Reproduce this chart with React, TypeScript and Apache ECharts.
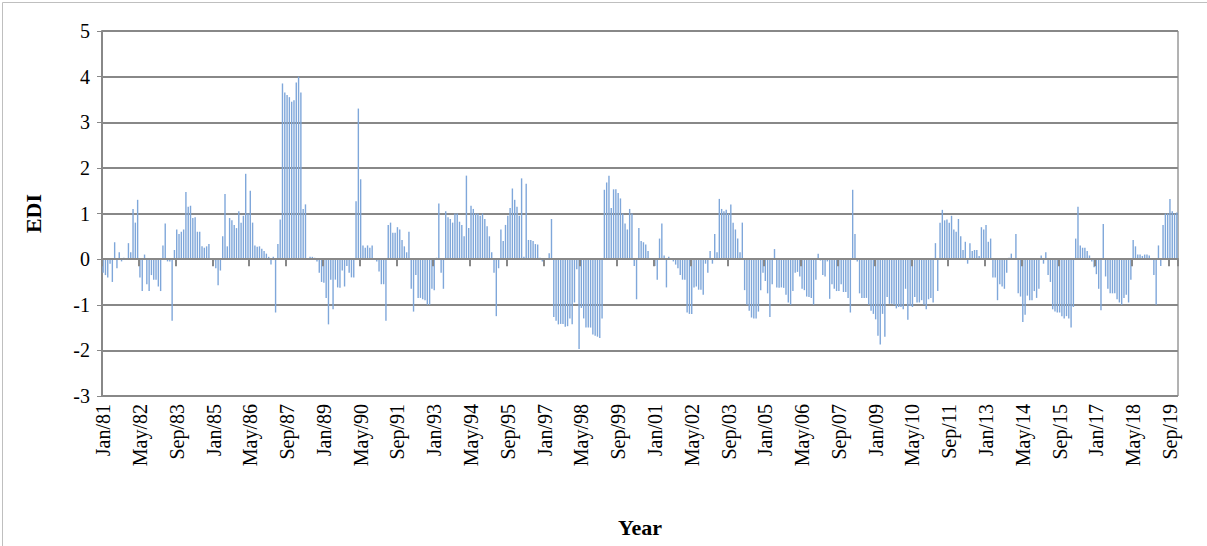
import { useEffect, useRef } from 'react';
import * as echarts from 'echarts';

// monthly EDI values, Jan 1981 onward
const edi1 = [-0.3, -0.35, -0.4, -0.1, -0.5, 0.37, -0.2, 0.15, -0.05, 0.03, 0.0, 0.35, 0.15, 1.1, 0.8, 1.3, -0.4, -0.7, 0.1, -0.55, -0.7, -0.35, -0.45, -0.45, -0.6, -0.7, 0.3, 0.78, -0.05, -0.05, -1.35, 0.2, 0.65, 0.55, 0.6, 0.65, 1.47, 1.15, 1.17, 0.9, 0.92, 0.6, 0.6];
const edi2 = [0.28, 0.25, 0.28, 0.33, 0.02, -0.05, -0.2, -0.57, -0.25, 0.5, 1.43, 0.28, 0.9, 0.85, 0.75, 0.68, 1.05, 0.8, 0.95, 1.87, 1.0, 1.5, 0.8, 0.3, 0.27, 0.28, 0.23, 0.18, 0.12, 0.05, -0.12, 0.05, -1.17, 0.33, 0.87, 3.85, 3.65, 3.6, 3.55, 3.45, 3.48, 3.87, 4.0, 3.65, 1.1, 1.2];
const edi3 = [0.0, 0.05, 0.05, 0.03, -0.05, -0.3, -0.5, -0.52, -0.85, -1.43, -0.45, -1.1, -0.45, -0.62, -0.63, -0.25, -0.6, -0.15, -0.3, -0.4, -0.4, 1.27, 3.3, 1.75, 0.3, 0.25, 0.3, 0.25, 0.3, 0.02, -0.05, -0.27, -0.55, -0.55, -1.35, 0.75, 0.8, 0.58, 0.58, 0.7, 0.65, 0.42, 0.28, 0.15, 0.6, -0.65];
const edi4 = [-1.15, -0.35, -0.85, -0.85, -0.88, -0.9, -1.0, -1.0, -0.65, -0.68, 0.03, 1.22, -0.3, -0.65, 1.05, 0.92, 0.88, 0.8, 1.0, 1.0, 0.82, 0.75, 0.5, 1.83, 0.68, 1.17, 1.1, 1.0, 1.0, 0.95, 1.0, 0.88, 0.72, 0.5, 0.15, -0.3, -1.25, -0.2, 0.65, 0.4, 0.75, 0.95, 1.12, 1.55, 1.3, 1.15];
const edi5 = [0.95, 1.77, 0.05, 1.65, 0.42, 0.42, 0.4, 0.33, 0.32, 0.03, -0.05, 0.0, 0.0, 0.13, 0.88, -1.27, -1.35, -1.43, -1.42, -1.42, -1.48, -1.47, -1.3, -1.43, -0.95, -0.22, -1.97, -1.07, -1.3, -1.5, -1.5, -1.5, -1.65, -1.68, -1.7, -1.73, -1.3, 1.52, 1.68, 1.83, 1.12, 1.53, 1.53, 1.45, 1.33];
const edi6 = [1.0, 0.78, 0.65, 1.1, 1.0, -0.15, -0.88, 0.68, 0.4, 0.37, 0.32, 0.18, 0.0, 0.0, -0.15, -0.45, 0.45, 0.78, 0.08, -0.62, 0.05, 0.0, -0.05, -0.12, -0.2, -0.35, -0.45, -0.45, -1.17, -1.2, -1.2, -0.62, -0.6, -0.67, -0.67, -0.78, -0.1, -0.3, 0.18, -0.1, 0.55, 0.15, 1.32, 1.1, 1.05, 1.08];
const edi7 = [1.0, 1.2, 0.8, 0.65, 0.45, 0.15, 0.8, -0.68, -1.0, -1.13, -1.28, -1.3, -1.3, -1.15, -0.68, -0.3, -0.48, -0.75, -1.27, -0.55, 0.22, -0.62, -0.63, -0.62, -0.63, -0.78, -0.95, -1.0, -0.7, -0.3, -0.28, -0.38, -0.65, -0.68, -0.82, -0.83, -0.85, -1.0, -0.45, 0.12, -0.03, -0.35, -0.38, -0.05, -0.87];
const edi8 = [-0.55, -0.65, -0.7, -0.7, -0.55, -0.72, -0.72, -0.85, -1.17, 1.52, 0.55, -0.05, -0.75, -0.85, -0.85, -0.85, -1.0, -1.13, -1.2, -1.32, -1.68, -1.87, -1.2, -1.7, -0.83, -0.98, -0.98, -1.0, -1.08, -1.05, -1.05, -1.1, -0.65, -1.33, -1.03, -1.05, -0.83, -0.95, -0.95, -0.9, -1.0, -1.1, -0.88, -0.85, -0.95, 0.35];
const edi9 = [-0.7, 0.8, 1.08, 0.85, 0.87, 0.8, 0.95, 0.65, 0.6, 0.88, 0.5, 0.2, 0.38, -0.1, 0.35, 0.18, 0.2, 0.2, 0.07, 0.7, 0.65, 0.75, 0.38, 0.45, -0.4, -0.4, -0.9, -0.55, -0.6, -0.65, -0.3, 0.03, 0.12, 0.0, 0.55, -0.75, -0.82, -1.38, -1.22, -0.8, -0.9, -0.9, -0.7, -0.85, -0.65, 0.08];
const edi10 = [-0.1, 0.15, -0.35, -0.5, -1.1, -1.15, -1.17, -1.17, -1.25, -1.3, -1.25, -1.3, -1.5, -1.05, 0.45, 1.15, 0.3, 0.25, 0.25, 0.18, 0.08, -0.05, -0.18, -0.33, -0.65, -1.12, 0.77, -0.38, -0.65, -0.75, -0.75, -0.75, -0.88, -0.95, -1.0, -0.85, -0.78, -0.95, -0.45, 0.42, 0.28, 0.1, 0.1, 0.07, 0.1, 0.1, 0.08, -0.02, -0.35, -1.0, 0.3, -0.15, 0.75, 1.0, 1.0, 1.32, 1.05, 1.0, 1.02];

const ediValues = [...edi1, ...edi2, ...edi3, ...edi4, ...edi5, ...edi6, ...edi7, ...edi8, ...edi9, ...edi10];
const monthNames = ['Jan', 'Feb', 'Mar', 'Apr', 'May', 'Jun', 'Jul', 'Aug', 'Sep', 'Oct', 'Nov', 'Dec'];
const startYear = 1981;
const months = ediValues.map((_, i) => {
    const y = startYear + Math.floor(i / 12);
    return monthNames[i % 12] + '/' + String(y).slice(2);
});

const serif = '"Liberation Serif", "Times New Roman", serif';

const App = () => {
    const chartRef = useRef<HTMLDivElement | null>(null);

    useEffect(() => {
        document.body.style.margin = '0';
        const chart = echarts.init(chartRef.current!, null, { renderer: 'svg' });

        const option: echarts.EChartsOption = {
            animation: false,
            grid: {
                left: 102, right: 29, top: 31, bottom: 150,
                show: true, borderColor: '#666', borderWidth: 1,
            },
            graphic: [
                {
                    type: 'rect', left: 0, top: 0,
                    shape: { width: 1206, height: 545 },
                    style: { fill: 'none', stroke: '#bfbfbf', lineWidth: 1 },
                },
            ],
            xAxis: [
                {
                    type: 'category', data: months, position: 'bottom',
                    axisLine: { onZero: false, show: false },
                    axisTick: { show: false },
                    axisLabel: {
                        interval: 15, rotate: 90, fontFamily: serif,
                        fontSize: 20, color: '#000', margin: 8,
                    },
                    name: 'Year', nameLocation: 'middle', nameGap: 120,
                    nameTextStyle: { fontFamily: serif, fontSize: 22, fontWeight: 'bold', color: '#000' },
                },
                {
                    type: 'category', data: months, position: 'bottom',
                    axisLine: { show: true, onZero: true, lineStyle: { color: '#888', width: 2 } },
                    axisTick: { show: true, interval: 15, length: 7, lineStyle: { color: '#888', width: 2 } },
                    axisLabel: { show: false },
                    z: 5,
                },
            ],
            yAxis: {
                type: 'value', min: -3, max: 5, interval: 1,
                axisLine: { show: true, lineStyle: { color: '#888', width: 2 } },
                axisTick: { show: true, length: 5, lineStyle: { color: '#888' } },
                splitLine: { lineStyle: { color: '#888', width: 2 } },
                axisLabel: { fontFamily: serif, fontSize: 20, color: '#000', margin: 12 },
                name: 'EDI', nameLocation: 'middle', nameGap: 58,
                nameTextStyle: { fontFamily: serif, fontSize: 22, fontWeight: 'bold', color: '#000' },
            },
            series: [
                {
                    type: 'bar', data: ediValues, xAxisIndex: 0,
                    barWidth: 1.4,
                    itemStyle: { color: '#7fa7da' },
                },
            ],
        };

        chart.setOption(option);
        return () => {
            chart.dispose();
        };
    }, []);

    return <div ref={chartRef} style={{ width: 1207, height: 546 }} />;
};

export default App;
